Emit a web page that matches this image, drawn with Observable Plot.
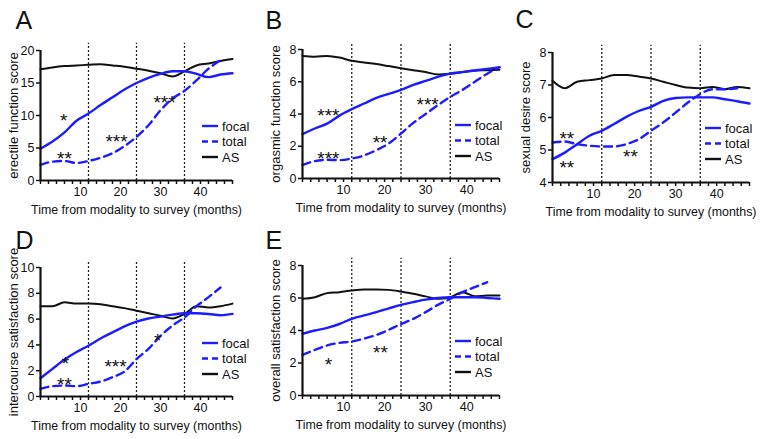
<!DOCTYPE html>
<html><head><meta charset="utf-8">
<script src="https://cdn.jsdelivr.net/npm/d3@7"></script>
<script src="https://cdn.jsdelivr.net/npm/@observablehq/plot@0.6"></script>
<style>
body{margin:0;background:#fff}
#wrap{position:relative;width:762px;height:439px;overflow:hidden;font-family:"Liberation Sans",Arial,sans-serif}
#wrap svg{position:absolute}
</style></head>
<body><div id="wrap"></div>
<script>
const months = [0,3,6,9,12,15,18,21,24,27,30,33,36,39,42,45,48];
const cutoffs = [12,24,36];
const seriesNames = ["focal","total","AS"];

const aFocal = [4.9,6.0,7.4,9.2,10.3,11.6,12.8,14.0,15.0,15.8,16.4,16.8,16.8,16.4,15.9,16.3,16.5];
const aTotal = [2.4,2.9,3.0,2.7,3.0,3.5,4.2,5.3,6.7,8.5,10.8,12.6,13.8,15.4,17.2,18.5,null];
const aAS    = [17.1,17.4,17.6,17.7,17.8,17.9,17.7,17.5,17.2,16.9,16.5,16.0,16.8,17.7,18.0,18.4,18.7];
const aStarX = [5.8,6,19,31], aStarY = [10,4.1,6.7,12.7], aStarT = ["*","**","***","***"];

const bFocal = [2.75,3.1,3.4,3.9,4.3,4.65,5.0,5.25,5.5,5.8,6.05,6.3,6.5,6.6,6.7,6.8,6.9];
const bTotal = [0.83,1.08,1.16,1.14,1.24,1.43,1.76,2.17,2.79,3.45,4.0,4.55,5.06,5.5,6.0,6.5,6.9];
const bAS    = [7.6,7.55,7.6,7.5,7.3,7.2,7.1,6.97,6.84,6.72,6.6,6.45,6.5,6.6,6.7,6.72,6.75];
const bStarX = [6.3,6.3,18.9,30.5], bStarY = [4.2,1.55,2.5,4.85], bStarT = ["***","***","**","***"];

const cFocal = [4.72,4.92,5.18,5.44,5.59,5.8,6.02,6.2,6.33,6.51,6.6,6.62,6.62,6.62,6.56,6.5,6.43];
const cTotal = [5.23,5.26,5.18,5.13,5.11,5.11,5.18,5.33,5.59,5.85,6.15,6.46,6.72,6.87,6.87,6.9,null];
const cAS    = [7.13,6.9,7.1,7.15,7.2,7.31,7.31,7.26,7.2,7.1,7.0,6.92,6.9,6.94,6.87,6.94,6.9];
const cStarX = [3.5,3.5,19], cStarY = [5.5,4.6,4.95], cStarT = ["**","**","**"];

const dFocal = [1.42,2.14,2.86,3.45,3.94,4.5,4.97,5.43,5.8,6.05,6.2,6.35,6.45,6.45,6.4,6.3,6.4];
const dTotal = [0.6,0.8,0.85,0.8,0.98,1.16,1.5,1.93,2.9,3.7,4.7,5.5,6.13,7.0,7.7,8.45,null];
const dAS    = [7.0,7.0,7.3,7.2,7.2,7.16,7.0,6.85,6.65,6.45,6.26,6.05,6.4,7.0,6.9,7.0,7.2];
const dStarX = [6.25,6,18.75,29.3], dStarY = [2.9,1.3,2.7,4.7], dStarT = ["*","**","***","*"];

const eFocal = [3.8,4.0,4.16,4.4,4.72,4.93,5.13,5.36,5.58,5.75,5.9,6.0,6.05,6.05,6.05,6.0,5.95];
const eTotal = [2.5,2.8,3.08,3.24,3.32,3.5,3.73,4.04,4.4,4.72,5.13,5.58,5.95,6.36,6.67,6.97,null];
const eAS    = [5.95,6.05,6.3,6.36,6.46,6.52,6.52,6.5,6.4,6.26,6.1,5.95,6.05,6.36,6.11,6.15,6.15];
const eStarX = [6.3,19], eStarY = [2.2,2.9], eStarT = ["*","**"];

const BLUE = "#1c1cff", BLACK = "#111";
const FONT = "'Liberation Sans', Arial, sans-serif";

const panels = [
  {letter:"A", label:"erectile function score", focal:aFocal,total:aTotal,as:aAS, sx:aStarX,sy:aStarY,st:aStarT,
   yDomain:[0,20], yTicks:[0,5,10,15,20], left:0, top:0, w:250, h:220, mL:40, mR:18, mT:50, mB:40, letterDx:-25, letterDy:-22, legDx:162},
  {letter:"B", label:"orgasmic function score", focal:bFocal,total:bTotal,as:bAS, sx:bStarX,sy:bStarY,st:bStarT,
   yDomain:[0,8], yTicks:[0,2,4,6,8], left:250, top:0, w:262, h:220, mL:52, mR:13, mT:49, mB:42, letterDx:-37, letterDy:-21, legDx:153},
  {letter:"C", label:"sexual desire score", focal:cFocal,total:cTotal,as:cAS, sx:cStarX,sy:cStarY,st:cStarT,
   yDomain:[4,8], yTicks:[4,5,6,7,8], left:500, top:0, w:262, h:220, mL:52, mR:13, mT:52, mB:38, letterDx:-37, letterDy:-25, legDx:153},
  {letter:"D", label:"intercourse satisfaction score", focal:dFocal,total:dTotal,as:dAS, sx:dStarX,sy:dStarY,st:dStarT,
   yDomain:[0,10], yTicks:[0,2,4,6,8,10], left:0, top:215, w:250, h:224, mL:40, mR:18, mT:52, mB:43, letterDx:-25, letterDy:-19, legDx:162},
  {letter:"E", label:"overall satisfaction score", focal:eFocal,total:eTotal,as:eAS, sx:eStarX,sy:eStarY,st:eStarT,
   yDomain:[0,8], yTicks:[0,2,4,6,8], left:250, top:215, w:262, h:224, mL:52, mR:13, mT:50, mB:44, letterDx:-37, letterDy:-17, legDx:153}
];

function legendMark(dx) {
  return (index, scales, values, dims) => {
    const g = d3.create("svg:g");
    const styles = [
      {name: seriesNames[0], stroke: BLUE, dash: null},
      {name: seriesNames[1], stroke: BLUE, dash: "6,4"},
      {name: seriesNames[2], stroke: BLACK, dash: null}
    ];
    styles.forEach((s, i) => {
      const y = dims.marginTop + 76 + i * 15.5;
      const x = dims.marginLeft + dx;
      g.append("line").attr("x1", x).attr("x2", x + 16).attr("y1", y).attr("y2", y)
        .attr("stroke", s.stroke).attr("stroke-width", 2.4).attr("stroke-dasharray", s.dash);
      g.append("text").attr("x", x + 20).attr("y", y).attr("dy", "0.35em")
        .attr("text-anchor", "start")
        .attr("font-size", 13).attr("font-family", FONT).attr("fill", "#111").text(s.name);
    });
    return g.node();
  };
}

const wrap = document.getElementById("wrap");
for (const p of panels) {
  const rows = [];
  months.forEach((m, i) => {
    rows.push({m, v: p.focal[i], s: "focal"});
    rows.push({m, v: p.total[i], s: "total"});
    rows.push({m, v: p.as[i], s: "AS"});
  });
  const stars = p.sx.map((x, i) => ({x, y: p.sy[i], t: p.st[i]}));
  const yTop = p.yDomain[1] + (p.yDomain[1] - p.yDomain[0]) * 0.055;
  const svg = Plot.plot({
    width: p.w, height: p.h,
    marginLeft: p.mL, marginRight: p.mR, marginTop: p.mT, marginBottom: p.mB,
    style: {fontFamily: FONT, fontSize: "13px", background: "transparent", overflow: "visible", color: "#111"},
    x: {domain: [0, 48]},
    y: {domain: p.yDomain},
    marks: [
      Plot.ruleX(cutoffs, {y1: p.yDomain[0], y2: yTop, stroke: "#222", strokeWidth: 1.3, strokeDasharray: "2,2"}),
      Plot.line(rows.filter(d => d.s === "AS" && d.v != null), {x: "m", y: "v", stroke: BLACK, strokeWidth: 2, curve: "monotone-x"}),
      Plot.line(rows.filter(d => d.s === "focal" && d.v != null), {x: "m", y: "v", stroke: BLUE, strokeWidth: 2.4, curve: "monotone-x"}),
      Plot.line(rows.filter(d => d.s === "total" && d.v != null), {x: "m", y: "v", stroke: BLUE, strokeWidth: 2.4, strokeDasharray: "8,5", curve: "monotone-x"}),
      Plot.text(stars, {x: "x", y: "y", text: "t", fontSize: 19, dy: 5, fill: "#111"}),
      Plot.axisX({ticks: d3.range(0, 49, 2), tickFormat: d => (d % 10 === 0 && d > 0) ? String(d) : "", tickSize: 4, tickPadding: 3, strokeWidth: 1.5, fontSize: 12.5, label: null}),
      Plot.axisY({ticks: p.yTicks, tickFormat: d => String(d), tickSize: 4, tickPadding: 2, strokeWidth: 1.5, fontSize: 12.5, label: null}),
      Plot.ruleX([0], {stroke: "#111", strokeWidth: 2.2}),
      Plot.ruleY([p.yDomain[0]], {stroke: "#111", strokeWidth: 2.2}),
      Plot.text([p.label], {frameAnchor: "left", dx: -27, rotate: -90, textAnchor: "middle", lineAnchor: "middle", fontSize: 13, fill: "#111"}),
      Plot.text(["Time from modality to survey (months)"], {frameAnchor: "bottom", dy: 30, textAnchor: "middle", lineAnchor: "middle", fontSize: 12.4, fill: "#111"}),
      Plot.text([p.letter], {frameAnchor: "top-left", dx: p.letterDx, dy: p.letterDy, textAnchor: "start", lineAnchor: "bottom", fontSize: 25, fill: "#111"}),
      legendMark(p.legDx)
    ]
  });
  svg.style.left = p.left + "px";
  svg.style.top = p.top + "px";
  wrap.appendChild(svg);
}
</script>
</body></html>
